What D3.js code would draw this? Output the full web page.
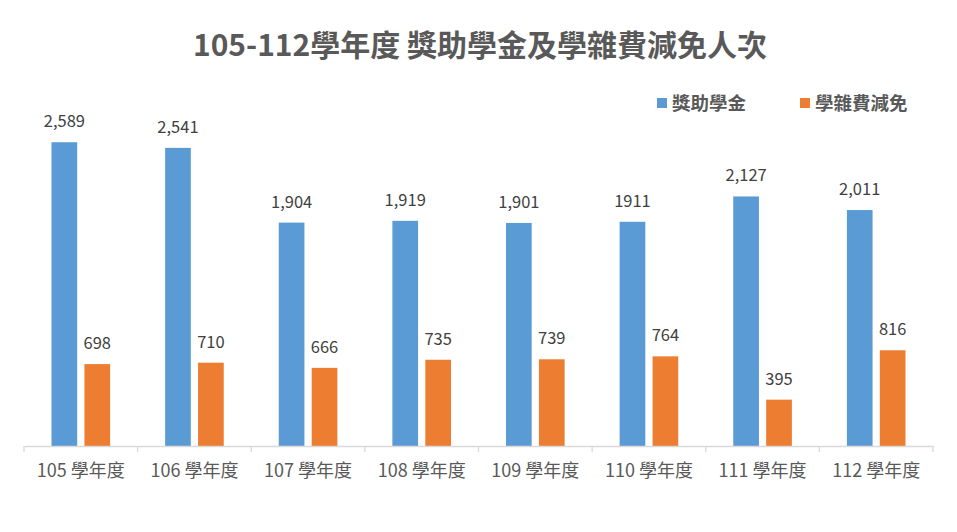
<!DOCTYPE html>
<html>
<head>
<meta charset="utf-8">
<script src="https://cdn.jsdelivr.net/npm/d3@7"></script>
<style>
  body { margin: 0; background: #fff; }
  text { font-family: "Noto Sans CJK TC", "Noto Sans", sans-serif; }
</style>
</head>
<body>
<div id="chart"></div>
<script>
const years = ['105 學年度', '106 學年度', '107 學年度', '108 學年度', '109 學年度', '110 學年度', '111 學年度', '112 學年度'];
const series = ['獎助學金', '學雜費減免'];
const scholarship = [2589, 2541, 1904, 1919, 1901, 1911, 2127, 2011];
const feeWaiver = [698, 710, 666, 735, 739, 764, 395, 816];
// labels as shown on the chart (110 has no thousands separator)
const scholarshipLabels = ['2,589', '2,541', '1,904', '1,919', '1,901', '1911', '2,127', '2,011'];
const feeWaiverLabels = ['698', '710', '666', '735', '739', '764', '395', '816'];
const title = '105-112學年度 獎助學金及學雜費減免人次';

const cfg = {
  width: 957,
  height: 532,
  left: 24,
  right: 933,
  base: 446,
  top: 94,
  colors: ['#5B9BD5', '#ED7D31'],
  axisColor: '#D9D9D9',
  textColor: '#595959',
  labelColor: '#404040'
};

const svg = d3.select('#chart').append('svg')
  .attr('width', cfg.width)
  .attr('height', cfg.height);

const x0 = d3.scaleBand().domain(years).range([cfg.left, cfg.right]).padding(0);
const x1 = d3.scaleBand().domain(series)
  .range([27.5, x0.bandwidth() - 27.5]).paddingInner(0.22);
const y = d3.scaleLinear().domain([0, 3000]).range([cfg.base, cfg.top]);

const rows = years.map((yr, i) => ({
  year: yr,
  vals: [
    { key: series[0], v: scholarship[i], label: scholarshipLabels[i] },
    { key: series[1], v: feeWaiver[i], label: feeWaiverLabels[i] }
  ]
}));

// title
svg.append('text')
  .attr('x', 480).attr('y', 56)
  .attr('text-anchor', 'middle')
  .attr('font-size', 30).attr('font-weight', 'bold')
  .attr('fill', cfg.textColor)
  .text(title);

// bars
const groups = svg.append('g').selectAll('g').data(rows).enter()
  .append('g')
  .attr('transform', d => `translate(${x0(d.year)},0)`);

groups.selectAll('rect').data(d => d.vals).enter()
  .append('rect')
  .attr('x', d => x1(d.key))
  .attr('y', d => y(d.v))
  .attr('width', x1.bandwidth())
  .attr('height', d => cfg.base - y(d.v))
  .attr('fill', (d, i) => cfg.colors[i]);

groups.selectAll('text').data(d => d.vals).enter()
  .append('text')
  .attr('x', d => x1(d.key) + x1.bandwidth() / 2)
  .attr('y', d => y(d.v) - 15)
  .attr('text-anchor', 'middle')
  .attr('font-size', 16.5)
  .attr('fill', cfg.labelColor)
  .text(d => d.label);

// x axis
const xAxis = d3.axisBottom(x0).tickSize(0).tickPadding(18);
const gx = svg.append('g')
  .attr('transform', `translate(0,${cfg.base})`)
  .call(xAxis);
gx.select('.domain').attr('stroke', cfg.axisColor).attr('stroke-width', 1.3);
gx.selectAll('text')
  .attr('font-size', 18)
  .attr('fill', cfg.textColor)
  .style('font-family', '"Noto Sans CJK TC", "Noto Sans", sans-serif');

// boundary tick marks
const bounds = years.map(yr => x0(yr)).concat([cfg.right]);
svg.append('g').selectAll('line').data(bounds).enter()
  .append('line')
  .attr('x1', d => d).attr('x2', d => d)
  .attr('y1', cfg.base).attr('y2', cfg.base + 6)
  .attr('stroke', cfg.axisColor).attr('stroke-width', 1.3);

// legend
const legendX = [657, 800];
const legend = svg.append('g').selectAll('g').data(series).enter()
  .append('g')
  .attr('transform', (d, i) => `translate(${legendX[i]},98)`);
legend.append('rect')
  .attr('width', 10).attr('height', 10)
  .attr('fill', (d, i) => cfg.colors[i]);
legend.append('text')
  .attr('x', 15).attr('y', 12)
  .attr('font-size', 18.5).attr('font-weight', 'bold')
  .attr('fill', cfg.textColor)
  .text(d => d);
</script>
</body>
</html>
